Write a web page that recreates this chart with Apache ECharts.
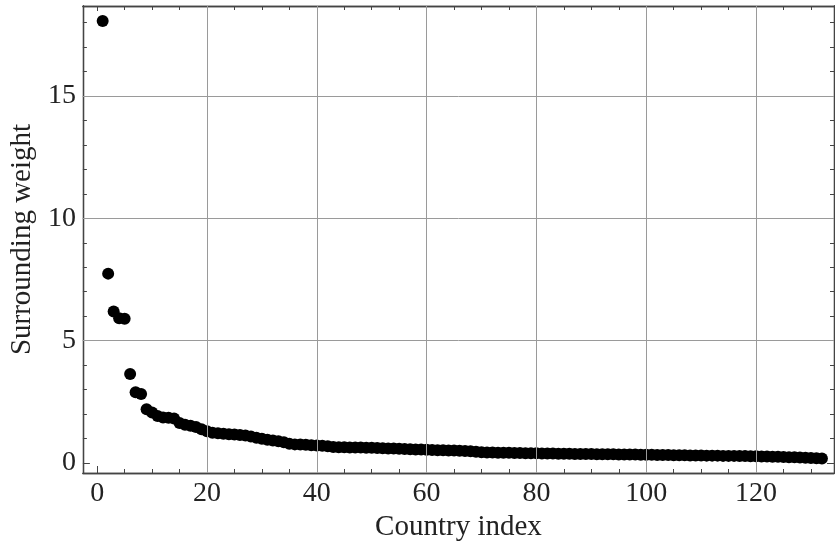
<!DOCTYPE html>
<html lang="en" style="height: 100%">
<head>
    <meta charset="utf-8">
    <script type="text/javascript" src="https://cdn.jsdelivr.net/npm/echarts@6/dist/echarts.min.js"></script>
</head>
<body style="height: 100%; margin: 0; background: #fff">
    <div id="main" style="height: 551px; width: 835px"></div>
    <script type="text/javascript">
        // surrounding weight per country, sorted descending (index 1..132)
        var weights = [
            18.07, 7.74, 6.19, 5.92, 5.90, 3.64, 2.89, 2.82, 2.20, 2.06,
            1.92, 1.86, 1.85, 1.82, 1.63, 1.56, 1.52, 1.47, 1.38, 1.30,
            1.24, 1.21, 1.19, 1.17, 1.16, 1.14, 1.12, 1.08, 1.03, 0.99,
            0.95, 0.92, 0.89, 0.85, 0.79, 0.76, 0.75, 0.74, 0.72, 0.71,
            0.70, 0.68, 0.65, 0.64, 0.64, 0.63, 0.63, 0.63, 0.62, 0.62,
            0.61, 0.60, 0.59, 0.59, 0.58, 0.57, 0.56, 0.55, 0.55, 0.54,
            0.53, 0.52, 0.52, 0.51, 0.51, 0.50, 0.49, 0.48, 0.46, 0.44,
            0.43, 0.43, 0.42, 0.42, 0.42, 0.41, 0.41, 0.40, 0.40, 0.40,
            0.39, 0.39, 0.39, 0.38, 0.38, 0.38, 0.37, 0.37, 0.37, 0.37,
            0.36, 0.36, 0.36, 0.36, 0.35, 0.35, 0.35, 0.35, 0.34, 0.34,
            0.34, 0.33, 0.33, 0.33, 0.32, 0.32, 0.32, 0.31, 0.31, 0.31,
            0.30, 0.30, 0.30, 0.29, 0.29, 0.29, 0.28, 0.28, 0.27, 0.27,
            0.26, 0.26, 0.25, 0.25, 0.24, 0.23, 0.23, 0.22, 0.21, 0.20,
            0.19, 0.18
        ];

        var xMajor = [0, 20, 40, 60, 80, 100, 120];
        var xMinor = [5, 10, 15, 25, 30, 35, 45, 50, 55, 65, 70, 75, 85, 90, 95, 105, 110, 115, 125, 130];
        var yMajor = [0, 5, 10, 15];
        var yMinor = [1, 2, 3, 4, 6, 7, 8, 9, 11, 12, 13, 14, 16, 17, 18];
        var xGrid = [20, 40, 60, 80, 100, 120];
        var yGrid = [5, 10, 15];

        var xMin = -2.6, xMax = 134.2, yMin = -0.41, yMax = 18.68;
        var frameColor = '#444';
        var font = 'Liberation Serif';

        var points = weights.map(function (w, i) { return [i + 1, w]; });

        function makeX(pos, ticks, len, labels) {
            return {
                type: 'value', position: pos, min: xMin, max: xMax,
                axisLine: { show: true, onZero: false, lineStyle: { color: frameColor, width: 1.3 } },
                axisTick: { show: true, inside: true, length: len, customValues: ticks,
                    lineStyle: { color: frameColor, width: 1 } },
                axisLabel: { show: labels, customValues: ticks, margin: 7,
                    fontFamily: font, fontSize: 28, color: '#222' },
                splitLine: { show: false }
            };
        }
        function makeY(pos, ticks, len, labels) {
            return {
                type: 'value', position: pos, min: yMin, max: yMax,
                axisLine: { show: true, onZero: false, lineStyle: { color: frameColor, width: 1.3 } },
                axisTick: { show: true, inside: true, length: len, customValues: ticks,
                    lineStyle: { color: frameColor, width: 1 } },
                axisLabel: { show: labels, customValues: ticks, margin: 7,
                    fontFamily: font, fontSize: 28, color: '#222' },
                splitLine: { show: false }
            };
        }

        var xAxes = [
            makeX('bottom', xMajor, 7, true),
            makeX('bottom', xMinor, 4, false),
            makeX('top', xMajor, 5, false),
            makeX('top', xMinor, 4, false)
        ];
        xAxes[0].name = 'Country index';
        xAxes[0].nameLocation = 'middle';
        xAxes[0].nameGap = 40;
        xAxes[0].nameTextStyle = { fontFamily: font, fontSize: 29, color: '#222' };

        var yAxes = [
            makeY('left', yMajor, 7, true),
            makeY('left', yMinor, 4, false),
            makeY('right', yMajor, 7, false),
            makeY('right', yMinor, 4, false)
        ];
        yAxes[0].name = 'Surrounding weight';
        yAxes[0].nameLocation = 'middle';
        yAxes[0].nameGap = 45;
        yAxes[0].nameTextStyle = { fontFamily: font, fontSize: 29, color: '#222' };

        var gridLines = xGrid.map(function (v) { return { xAxis: v }; })
            .concat(yGrid.map(function (v) { return { yAxis: v }; }));

        var chart = echarts.init(document.getElementById('main'), null, { renderer: 'canvas' });
        chart.setOption({
            animation: false,
            backgroundColor: '#fff',
            grid: { left: 82, right: 1, top: 6, bottom: 78, containLabel: false },
            xAxis: xAxes,
            yAxis: yAxes,
            series: [
                {
                    // grid lines only
                    type: 'scatter', data: [], z: 1,
                    markLine: {
                        silent: true, symbol: 'none', animation: false,
                        label: { show: false },
                        lineStyle: { color: '#9a9a9a', width: 1, type: 'solid' },
                        data: gridLines
                    }
                },
                {
                    type: 'scatter', z: 3,
                    xAxisIndex: 0, yAxisIndex: 0,
                    symbol: 'circle', symbolSize: 12,
                    itemStyle: { color: '#000', opacity: 1 },
                    data: points
                }
            ]
        });
    </script>
</body>
</html>
